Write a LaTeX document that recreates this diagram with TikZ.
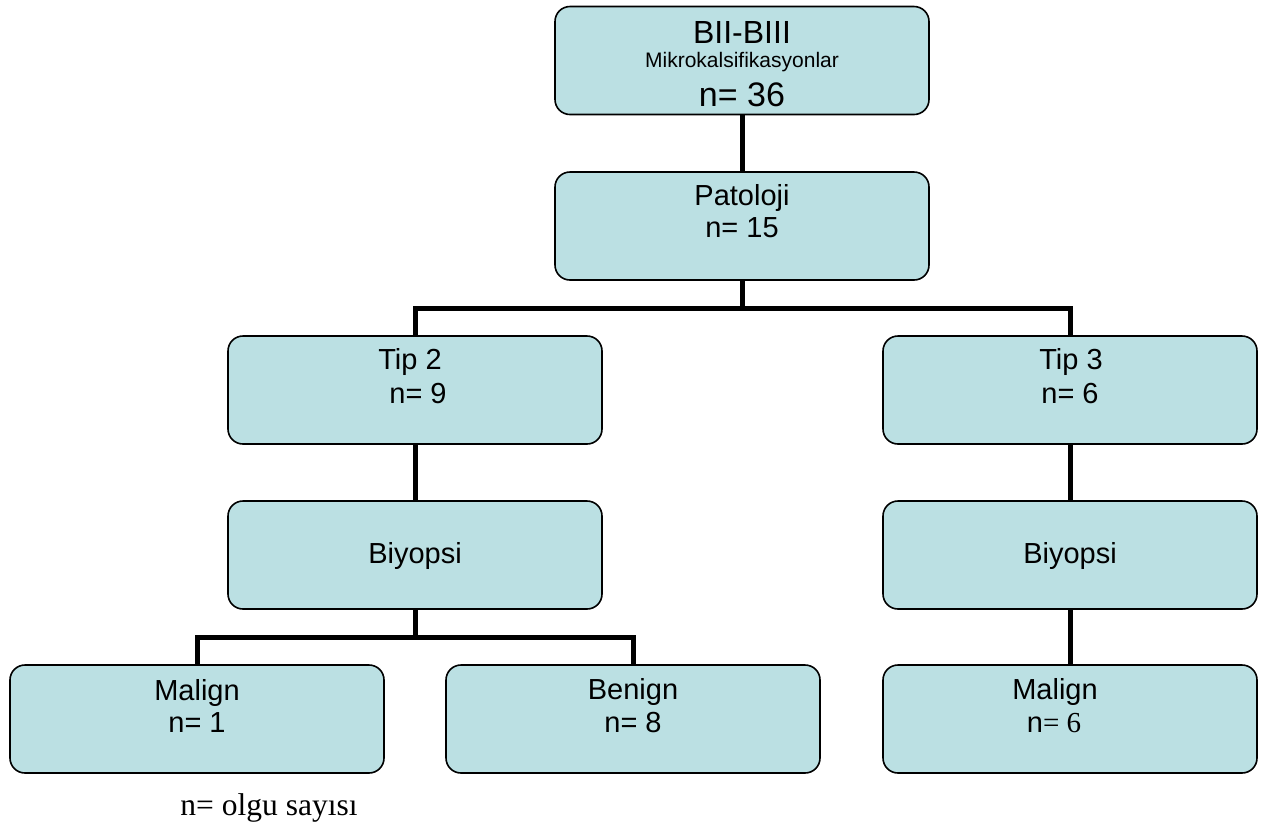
\documentclass[tikz,border=0pt]{standalone}
\usepackage{fontspec}
\setmainfont{Liberation Sans}
\newfontfamily\seriffont{Liberation Serif}
\definecolor{boxfill}{HTML}{BBE0E3}
\begin{document}
\begin{tikzpicture}[x=1pt,y=-1pt,
  box/.style={draw=black, line width=1.6pt, fill=boxfill, rounded corners=15pt,
    minimum width=374pt, minimum height=108pt, inner sep=0pt},
  txt/.style={anchor=base, inner sep=0pt, font=\fontsize{29}{33}\selectfont},
  conn/.style={line width=5pt}]
\useasboundingbox (0,0) rectangle (1266,823);
% boxes
\node[box] (top)  at (742,60.5) {};
\node[box] (pat)  at (742,226) {};
\node[box] (tip2) at (415,390) {};
\node[box] (tip3) at (1070,390) {};
\node[box] (bio2l) at (415,555) {};
\node[box] (bio3) at (1070,555) {};
\node[box] (mal1) at (197,719) {};
\node[box] (ben)  at (633,719) {};
\node[box] (mal3) at (1070,719) {};
% connectors
\coordinate (j1) at (742,308);
\coordinate (j2) at (415,637);
\draw[conn] (top.south) -- (pat.north);
\draw[conn] (pat.south) -- (j1);
\draw[conn] (tip2.north) |- (j1) -| (tip3.north);
\draw[conn] (tip2.south) -- (bio2l.north);
\draw[conn] (tip3.south) -- (bio3.north);
\draw[conn] (bio2l.south) -- (j2);
\draw[conn] (mal1.north) |- (j2) -| (ben.north);
\draw[conn] (bio3.south) -- (mal3.north);
% texts
\node[txt, font=\fontsize{32}{36}\selectfont] (t1) at (742,43) {BII-BIII};
\node[txt, font=\fontsize{21}{24}\selectfont] (t2) at (742,67) {Mikrokalsifikasyonlar};
\node[txt, font=\fontsize{34}{38}\selectfont] (t3) at (742,106) {n= 36};
\node[txt] (p1) at (742,205) {Patoloji};
\node[txt] (p2) at (742,237) {n= 15};
\node[txt] (a1) at (410,369) {Tip 2};
\node[txt] (a2) at (418,403) {n= 9};
\node[txt] (b1) at (1071,369) {Tip 3};
\node[txt] (b2) at (1070,403) {n= 6};
\node[txt] (c1) at (415,563) {Biyopsi};
\node[txt] (d1) at (1070,563) {Biyopsi};
\node[txt] (e1) at (197,700) {Malign};
\node[txt] (e2) at (197,732) {n= 1};
\node[txt] (f1) at (633,699) {Benign};
\node[txt] (f2) at (633,732) {n= 8};
\node[txt] (g1) at (1055,699) {Malign};
\node[txt] (g2) at (1054,732) {n{\seriffont= 6}};
\node[txt, font=\fontsize{31.5}{36}\seriffont] (note) at (269,815) {n= olgu sayısı};
\end{tikzpicture}
\end{document}
